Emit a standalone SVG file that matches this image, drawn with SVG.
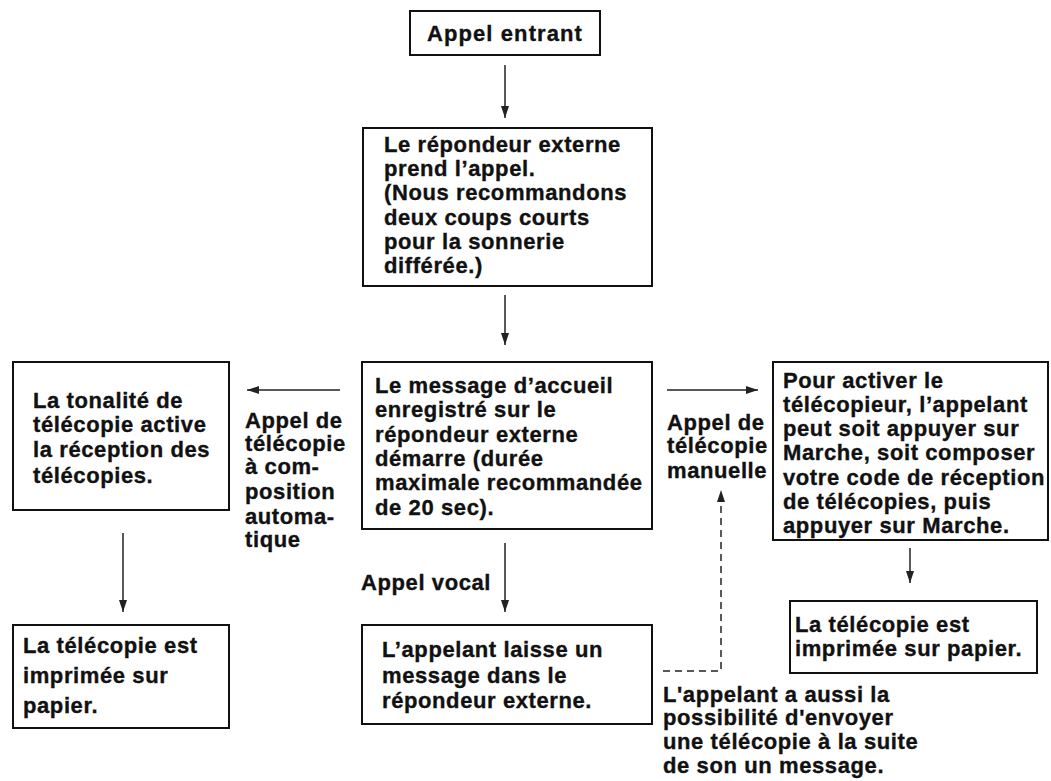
<svg xmlns="http://www.w3.org/2000/svg" width="1051" height="781" viewBox="0 0 1051 781">
<style>
.box{fill:#fff;stroke:#111;stroke-width:2}
.t{font-family:"Liberation Sans",Arial,sans-serif;font-weight:bold;font-size:22px;letter-spacing:0.6px;fill:#111;stroke:#111;stroke-width:0.35}
.big{font-size:22px;letter-spacing:1.1px}
.c{fill:none;stroke:#222;stroke-width:1.5}
.d{stroke-dasharray:7,5}
</style>
<defs>
<marker id="ah" markerUnits="userSpaceOnUse" markerWidth="12" markerHeight="8" refX="12" refY="4" orient="auto">
<path d="M0,0 L12,4 L0,8 z" fill="#222"/>
</marker>
</defs>
<rect width="1051" height="781" fill="#fff"/>
<g id="connectors">
<line class="c" x1="505" y1="65" x2="505" y2="118" marker-end="url(#ah)"/>
<line class="c" x1="505" y1="295" x2="505" y2="345" marker-end="url(#ah)"/>
<line class="c" x1="340" y1="390" x2="247" y2="390" marker-end="url(#ah)"/>
<line class="c" x1="667" y1="390" x2="758" y2="390" marker-end="url(#ah)"/>
<line class="c" x1="123" y1="533" x2="123" y2="612" marker-end="url(#ah)"/>
<line class="c" x1="505" y1="543" x2="505" y2="612" marker-end="url(#ah)"/>
<line class="c" x1="910" y1="548" x2="910" y2="583" marker-end="url(#ah)"/>
<polyline class="c d" points="663,671 721,671 721,490" marker-end="url(#ah)"/>
<text class="t"><tspan x="245" y="428">Appel de</tspan><tspan x="245" y="451">télécopie</tspan><tspan x="245" y="474">à com-</tspan><tspan x="245" y="499">position</tspan><tspan x="245" y="524">automa-</tspan><tspan x="245" y="547">tique</tspan></text>
<text class="t"><tspan x="667" y="430">Appel de</tspan><tspan x="667" y="453">télécopie</tspan><tspan x="667" y="478">manuelle</tspan></text>
<text class="t" x="361" y="590">Appel vocal</text>
<text class="t"><tspan x="663" y="702">L'appelant a aussi la</tspan><tspan x="663" y="725">possibilité d'envoyer</tspan><tspan x="663" y="749">une télécopie à la suite</tspan><tspan x="663" y="773">de son un message.</tspan></text>
</g>
<g id="n-entrant">
<rect class="box" x="410" y="11" width="190" height="44"/>
<text class="t big" x="505" y="41" text-anchor="middle">Appel entrant</text>
</g>
<g id="n-repondeur">
<rect class="box" x="363" y="128" width="289" height="158"/>
<text class="t"><tspan x="384" y="152">Le répondeur externe</tspan><tspan x="384" y="176">prend l’appel.</tspan><tspan x="384" y="200">(Nous recommandons</tspan><tspan x="384" y="225">deux coups courts</tspan><tspan x="384" y="249">pour la sonnerie</tspan><tspan x="384" y="273">différée.)</tspan></text>
</g>
<g id="n-message">
<rect class="box" x="362" y="362" width="290" height="167"/>
<text class="t"><tspan x="375" y="393">Le message d’accueil</tspan><tspan x="375" y="417">enregistré sur le</tspan><tspan x="375" y="442">répondeur externe</tspan><tspan x="375" y="466">démarre (durée</tspan><tspan x="375" y="490">maximale recommandée</tspan><tspan x="375" y="515">de 20 sec).</tspan></text>
</g>
<g id="n-tonalite">
<rect class="box" x="13" y="362" width="216" height="148"/>
<text class="t"><tspan x="33" y="408">La tonalité de</tspan><tspan x="33" y="432">télécopie active</tspan><tspan x="33" y="457">la réception des</tspan><tspan x="33" y="483">télécopies.</tspan></text>
</g>
<g id="n-activer">
<rect class="box" x="773" y="362" width="275" height="178"/>
<text class="t"><tspan x="783" y="388">Pour activer le</tspan><tspan x="783" y="412">télécopieur, l’appelant</tspan><tspan x="783" y="436">peut soit appuyer sur</tspan><tspan x="783" y="460">Marche, soit composer</tspan><tspan x="783" y="485">votre code de réception</tspan><tspan x="783" y="509">de télécopies, puis</tspan><tspan x="783" y="533">appuyer sur Marche.</tspan></text>
</g>
<g id="n-imprime-left">
<rect class="box" x="13" y="625" width="216" height="103"/>
<text class="t"><tspan x="23" y="653">La télécopie est</tspan><tspan x="23" y="683">imprimée sur</tspan><tspan x="23" y="713">papier.</tspan></text>
</g>
<g id="n-laisse">
<rect class="box" x="362" y="625" width="290" height="99"/>
<text class="t"><tspan x="382" y="657">L’appelant laisse un</tspan><tspan x="382" y="683">message dans le</tspan><tspan x="382" y="708">répondeur externe.</tspan></text>
</g>
<g id="n-imprime-right">
<rect class="box" x="790" y="601" width="247" height="72"/>
<text class="t"><tspan x="795" y="632">La télécopie est</tspan><tspan x="795" y="656">imprimée sur papier.</tspan></text>
</g>
</svg>
